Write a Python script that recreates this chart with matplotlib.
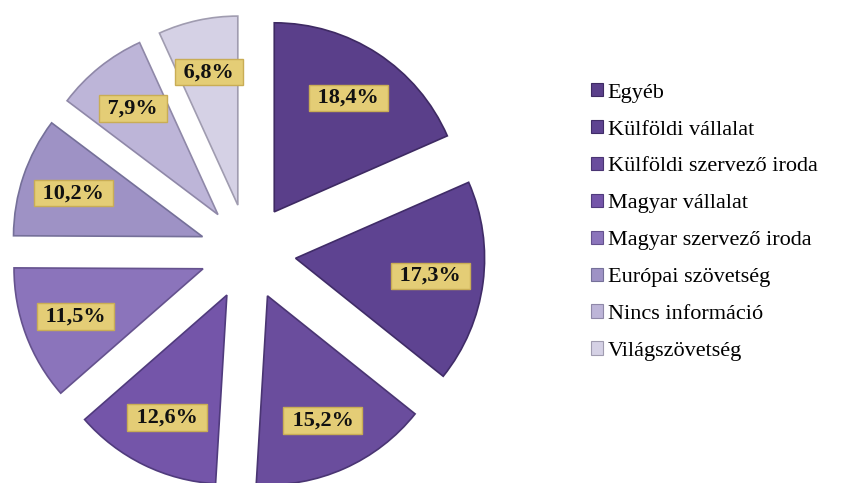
import matplotlib
matplotlib.use("Agg")
import matplotlib.pyplot as plt
from matplotlib.patches import Patch

# data
labels = ["Egyéb", "Külföldi vállalat", "Külföldi szervező iroda", "Magyar vállalat",
          "Magyar szervező iroda", "Európai szövetség", "Nincs információ", "Világszövetség"]
values = [18.4, 17.3, 15.2, 12.6, 11.5, 10.2, 7.9, 6.8]
colors = ["#5a3f8a", "#5e4391", "#6a4d9d", "#7455a9", "#8b74bb", "#9e92c5", "#bdb5d8", "#d5d1e5"]
edges = ["#3e2a63", "#402c68", "#4a3573", "#503b7d", "#65528e", "#757099", "#8f88a8", "#a09cb0"]

plt.rcParams["font.family"] = ["Liberation Serif", "DejaVu Serif"]

fig = plt.figure(figsize=(8.55, 4.83), dpi=100)
ax = fig.add_axes([0, 0, 1, 1])

R = 189.0  # pixels per unit radius
explode = [48 / R] * len(values)

wedges, texts, autotexts = ax.pie(
    values, startangle=90, counterclock=False, colors=colors,
    explode=explode, radius=1.0,
    autopct="%1.1f%%", pctdistance=0.72,
    wedgeprops=dict(linewidth=1.2),
    textprops=dict(fontsize=16, fontweight="bold", color="#111111"),
)
for w, ec in zip(wedges, edges):
    w.set_edgecolor(ec)

for v, t in zip(values, autotexts):
    t.set_text(" " + f"{v:.1f}%".replace(".", ",") + " ")
    t.set_bbox(dict(boxstyle="square,pad=0.15", facecolor="#e4cd76", edgecolor="#c9ad55", linewidth=1))

cx, cy = 248.0, 252.0  # pie centre in pixels from top-left
ax.set_xlim(-cx / R, (855 - cx) / R)
ax.set_ylim(-(483 - cy) / R, cy / R)
ax.set_aspect("auto")
ax.axis("off")

handles = [Patch(facecolor=c, edgecolor=e, linewidth=0.8) for c, e in zip(colors, edges)]
fig.legend(handles, labels, loc="center left", bbox_to_anchor=(591 / 855, 1 - 222 / 483),
           frameon=False, fontsize=16, handlelength=0.55, handleheight=0.55,
           handletextpad=0.2, labelspacing=0.78, borderaxespad=0, borderpad=0)

fig.savefig("out.png", dpi=100)
